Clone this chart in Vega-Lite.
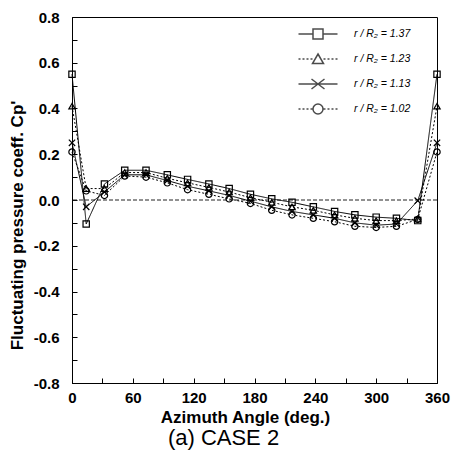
{
  "$schema": "https://vega.github.io/schema/vega-lite/v6.json",
  "width": 365,
  "height": 366,
  "autosize": "none",
  "padding": {"left": 72, "top": 17, "right": 16, "bottom": 76},
  "background": "white",
  "config": {
    "font": "Liberation Sans",
    "view": {"stroke": "black", "strokeWidth": 1},
    "axis": {
      "grid": false,
      "domainColor": "black",
      "tickColor": "black",
      "labelColor": "black",
      "titleColor": "black",
      "labelFont": "Liberation Sans",
      "titleFont": "Liberation Sans",
      "labelFontWeight": "bold",
      "titleFontWeight": "bold",
      "labelFontSize": 15,
      "titleFontSize": 17,
      "tickSize": -5,
      "tickWidth": 1,
      "labelFlush": false,
      "labelOverlap": false
    },
    "legend": {
      "orient": "none",
      "legendX": 240,
      "legendY": 11,
      "padding": 0,
      "symbolSize": 100,
      "labelOffset": 30,
      "rowPadding": 9,
      "labelFont": "Liberation Sans",
      "labelFontSize": 10.5,
      "labelFontStyle": "italic",
      "labelColor": "black"
    }
  },
  "title": {
    "text": "(a) CASE 2",
    "orient": "bottom",
    "fontSize": 22,
    "fontWeight": "normal",
    "font": "Liberation Sans",
    "color": "black",
    "offset": 3,
    "dx": -31
  },
  "data": {
    "values": [
      {"angle": 0, "cp": 0.55, "s": "1.37"},
      {"angle": 14, "cp": -0.105, "s": "1.37"},
      {"angle": 32, "cp": 0.07, "s": "1.37"},
      {"angle": 52, "cp": 0.13, "s": "1.37"},
      {"angle": 73, "cp": 0.13, "s": "1.37"},
      {"angle": 94, "cp": 0.11, "s": "1.37"},
      {"angle": 114, "cp": 0.09, "s": "1.37"},
      {"angle": 135, "cp": 0.07, "s": "1.37"},
      {"angle": 155, "cp": 0.05, "s": "1.37"},
      {"angle": 176, "cp": 0.025, "s": "1.37"},
      {"angle": 197, "cp": 0.005, "s": "1.37"},
      {"angle": 217, "cp": -0.01, "s": "1.37"},
      {"angle": 238, "cp": -0.03, "s": "1.37"},
      {"angle": 259, "cp": -0.05, "s": "1.37"},
      {"angle": 279, "cp": -0.065, "s": "1.37"},
      {"angle": 300, "cp": -0.075, "s": "1.37"},
      {"angle": 320, "cp": -0.08, "s": "1.37"},
      {"angle": 341, "cp": -0.09, "s": "1.37"},
      {"angle": 360, "cp": 0.55, "s": "1.37"},
      {"angle": 0, "cp": 0.41, "s": "1.23"},
      {"angle": 14, "cp": 0.05, "s": "1.23"},
      {"angle": 32, "cp": 0.05, "s": "1.23"},
      {"angle": 52, "cp": 0.12, "s": "1.23"},
      {"angle": 73, "cp": 0.12, "s": "1.23"},
      {"angle": 94, "cp": 0.095, "s": "1.23"},
      {"angle": 114, "cp": 0.075, "s": "1.23"},
      {"angle": 135, "cp": 0.055, "s": "1.23"},
      {"angle": 155, "cp": 0.035, "s": "1.23"},
      {"angle": 176, "cp": 0.01, "s": "1.23"},
      {"angle": 197, "cp": -0.01, "s": "1.23"},
      {"angle": 217, "cp": -0.03, "s": "1.23"},
      {"angle": 238, "cp": -0.045, "s": "1.23"},
      {"angle": 259, "cp": -0.065, "s": "1.23"},
      {"angle": 279, "cp": -0.08, "s": "1.23"},
      {"angle": 300, "cp": -0.09, "s": "1.23"},
      {"angle": 320, "cp": -0.09, "s": "1.23"},
      {"angle": 341, "cp": -0.083, "s": "1.23"},
      {"angle": 360, "cp": 0.41, "s": "1.23"},
      {"angle": 0, "cp": 0.25, "s": "1.13"},
      {"angle": 14, "cp": -0.03, "s": "1.13"},
      {"angle": 32, "cp": 0.035, "s": "1.13"},
      {"angle": 52, "cp": 0.11, "s": "1.13"},
      {"angle": 73, "cp": 0.11, "s": "1.13"},
      {"angle": 94, "cp": 0.085, "s": "1.13"},
      {"angle": 114, "cp": 0.06, "s": "1.13"},
      {"angle": 135, "cp": 0.04, "s": "1.13"},
      {"angle": 155, "cp": 0.02, "s": "1.13"},
      {"angle": 176, "cp": -0.005, "s": "1.13"},
      {"angle": 197, "cp": -0.03, "s": "1.13"},
      {"angle": 217, "cp": -0.05, "s": "1.13"},
      {"angle": 238, "cp": -0.065, "s": "1.13"},
      {"angle": 259, "cp": -0.08, "s": "1.13"},
      {"angle": 279, "cp": -0.1, "s": "1.13"},
      {"angle": 300, "cp": -0.11, "s": "1.13"},
      {"angle": 320, "cp": -0.105, "s": "1.13"},
      {"angle": 341, "cp": -0.003, "s": "1.13"},
      {"angle": 360, "cp": 0.25, "s": "1.13"},
      {"angle": 0, "cp": 0.21, "s": "1.02"},
      {"angle": 14, "cp": 0.04, "s": "1.02"},
      {"angle": 32, "cp": 0.02, "s": "1.02"},
      {"angle": 52, "cp": 0.105, "s": "1.02"},
      {"angle": 73, "cp": 0.1, "s": "1.02"},
      {"angle": 94, "cp": 0.075, "s": "1.02"},
      {"angle": 114, "cp": 0.045, "s": "1.02"},
      {"angle": 135, "cp": 0.025, "s": "1.02"},
      {"angle": 155, "cp": 0.005, "s": "1.02"},
      {"angle": 176, "cp": -0.015, "s": "1.02"},
      {"angle": 197, "cp": -0.045, "s": "1.02"},
      {"angle": 217, "cp": -0.065, "s": "1.02"},
      {"angle": 238, "cp": -0.08, "s": "1.02"},
      {"angle": 259, "cp": -0.095, "s": "1.02"},
      {"angle": 279, "cp": -0.115, "s": "1.02"},
      {"angle": 300, "cp": -0.12, "s": "1.02"},
      {"angle": 320, "cp": -0.115, "s": "1.02"},
      {"angle": 341, "cp": -0.085, "s": "1.02"},
      {"angle": 360, "cp": 0.21, "s": "1.02"}
    ]
  },
  "encoding": {
    "x": {
      "field": "angle",
      "type": "quantitative",
      "scale": {"domain": [0, 360], "nice": false, "zero": false},
      "axis": {
        "title": "Azimuth Angle (deg.)",
        "values": [0, 30, 60, 90, 120, 150, 180, 210, 240, 270, 300, 330, 360],
        "labelExpr": "datum.value % 60 == 0 ? datum.label : ''",
        "labelPadding": 12,
        "titleX": 173,
        "titleY": 26,
        "titleBaseline": "top"
      }
    },
    "y": {
      "field": "cp",
      "type": "quantitative",
      "scale": {"domain": [-0.8, 0.8], "nice": false, "zero": false},
      "axis": {
        "title": "Fluctuating pressure coeff.  Cp'",
        "values": [-0.8, -0.7, -0.6, -0.5, -0.4, -0.3, -0.2, -0.1, 0, 0.1, 0.2, 0.3, 0.4, 0.5, 0.6, 0.7, 0.8],
        "format": ".1f",
        "labelExpr": "abs(round(datum.value * 10)) % 2 == 0 ? replace(datum.label, '\u2212', '-') : ''",
        "labelPadding": 18,
        "titleX": -46,
        "titleY": 208,
        "titleBaseline": "bottom"
      }
    }
  },
  "resolve": {
    "scale": {"shape": "independent", "strokeDash": "independent"},
    "legend": {"shape": "independent", "strokeDash": "independent"}
  },
  "layer": [
    {
      "data": {"values": [{"cp": 0}]},
      "mark": {"type": "rule", "strokeDash": [4, 2], "strokeWidth": 1, "color": "#222"},
      "encoding": {
        "x": null,
        "y": {"field": "cp", "type": "quantitative"}
      }
    },
    {
      "mark": {"type": "line", "strokeWidth": 1, "color": "black"},
      "encoding": {
        "strokeDash": {
          "field": "s",
          "type": "nominal",
          "scale": {"domain": ["1.37", "1.23", "1.13", "1.02"], "range": [[1, 0], [2, 2], [1, 0], [2, 2]]},
          "legend": null
        }
      }
    },
    {
      "mark": {"type": "point", "filled": false, "color": "black", "size": 40, "strokeWidth": 1.2, "opacity": 1},
      "encoding": {
        "shape": {
          "field": "s",
          "type": "nominal",
          "scale": {"domain": ["1.37", "1.23", "1.13", "1.02"], "range": ["square", "triangle-up", "M-1,-1L1,1M-1,1L1,-1", "circle"]},
          "legend": null
        }
      }
    },
    {
      "transform": [{"filter": "datum.angle < 0"}],
      "mark": {"type": "point", "filled": false, "color": "black", "strokeWidth": 1.2},
      "encoding": {
        "shape": {
          "field": "s",
          "type": "nominal",
          "scale": {
            "domain": ["1.37", "1.23", "1.13", "1.02"],
            "range": [
              "M-3.9,0H-1M1,0H3.9M-1,-1H1V1H-1Z",
              "M-3.9,0H-3.5M-3.1,0H-2.7M-2.3,0H-1.9M-1.5,0H-1.1M1.1,0H1.5M1.9,0H2.3M2.7,0H3.1M3.5,0H3.9M0,-1L1.1,0.9H-1.1Z",
              "M-3.9,0H3.9M-1.3,-1L1.3,1M-1.3,1L1.3,-1",
              "M-3.9,0H-3.5M-3.1,0H-2.7M-2.3,0H-1.9M-1.5,0H-1.1M1.1,0H1.5M1.9,0H2.3M2.7,0H3.1M3.5,0H3.9M-1,0A1,1 0 1,0 1,0A1,1 0 1,0 -1,0"
            ]
          },
          "legend": {
            "title": null,
            "labelExpr": "'r / R\u2082 = ' + datum.label"
          }
        }
      }
    }
  ]
}
